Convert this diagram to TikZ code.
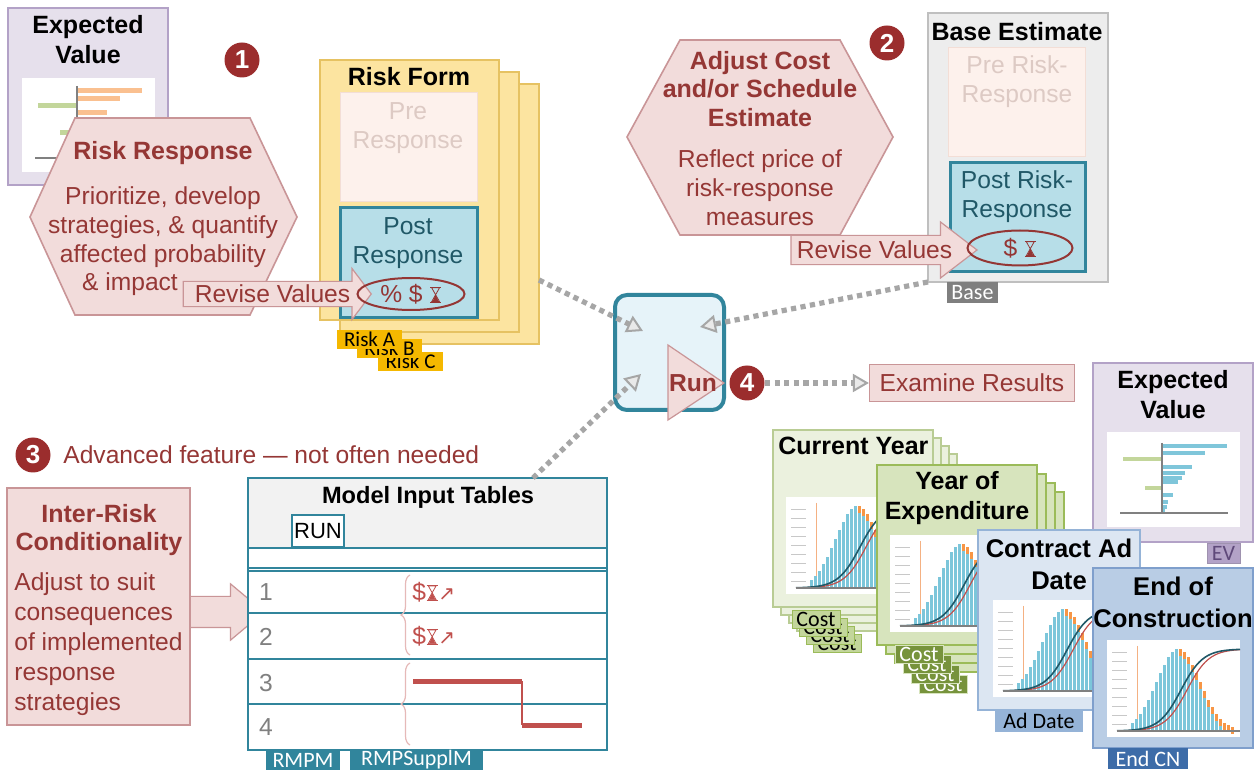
\documentclass[tikz,border=0pt]{standalone}
\usepackage{fontspec}
\setmainfont{Liberation Sans}
\newfontfamily\tabfont{Carlito}
\newfontfamily\symfont{DejaVu Sans}
\usepackage{xcolor}
\definecolor{riskRed}{HTML}{953735}
\definecolor{hexFill}{HTML}{F2DCDB}
\definecolor{hexBorder}{HTML}{C99597}
\definecolor{badgeRed}{HTML}{9B2D2D}
\definecolor{formFill}{HTML}{FCE4A0}
\definecolor{formBorder}{HTML}{E6C262}
\definecolor{tabGold}{HTML}{F5B800}
\definecolor{preFill}{HTML}{FDF1EC}
\definecolor{preBorder}{HTML}{F3DED6}
\definecolor{preText}{HTML}{DDCAC4}
\definecolor{postFill}{HTML}{B7DEE8}
\definecolor{postText}{HTML}{205867}
\definecolor{tealLine}{HTML}{31859C}
\definecolor{ringRed}{HTML}{943634}
\definecolor{evFill}{HTML}{E6E0EC}
\definecolor{evBorder}{HTML}{B3A2C7}
\definecolor{evTabText}{HTML}{5F497A}
\definecolor{evOrange}{HTML}{FAC090}
\definecolor{evGreen}{HTML}{C3D69B}
\definecolor{evBlue}{HTML}{7FC6DA}
\definecolor{baseFill}{HTML}{EDEDED}
\definecolor{baseBorder}{HTML}{BFBFBF}
\definecolor{gray50}{HTML}{7F7F7F}
\definecolor{runFill}{HTML}{E6F3F9}
\definecolor{dotGray}{HTML}{A6A6A6}
\definecolor{headGray}{HTML}{F2F2F2}
\definecolor{numGray}{HTML}{808080}
\definecolor{braceRed}{HTML}{E6B9B8}
\definecolor{stepRed}{HTML}{C0504D}
\definecolor{cyFill}{HTML}{EBF1DE}
\definecolor{cyBorder}{HTML}{B9CC94}
\definecolor{cyTab}{HTML}{C3D69B}
\definecolor{yoeFill}{HTML}{D7E4BD}
\definecolor{yoeBorder}{HTML}{9BBB59}
\definecolor{yoeTab}{HTML}{77933C}
\definecolor{adFill}{HTML}{DCE6F2}
\definecolor{adBorder}{HTML}{95B3D7}
\definecolor{endFill}{HTML}{B9CDE5}
\definecolor{endBorder}{HTML}{7F9FCC}
\definecolor{endTab}{HTML}{3D6CA8}
\definecolor{histBlue}{HTML}{7CC6DA}
\definecolor{histOrange}{HTML}{F79646}
\definecolor{chartOrange}{HTML}{F4B183}
\definecolor{cdfDark}{HTML}{215968}
\definecolor{cdfLight}{HTML}{C0504D}
\definecolor{tickGray}{HTML}{C8C8C8}
\usepackage{tikz}
\usetikzlibrary{shapes.geometric,shapes.arrows,arrows.meta,positioning,decorations.pathreplacing,calc}
\tikzset{
    sz/.style 2 args={minimum width=#1*0.5pt, minimum height=#2*0.5pt},
    card/.style={rectangle, anchor=north west, inner sep=0pt, outer sep=0pt},
    evcard/.style={card, draw=evBorder, fill=evFill, line width=0.8pt},
    chartarea/.style={card, fill=white},
    cardtitle/.style={align=center, inner sep=0pt, font=\bfseries\fontsize{12.5}{15}\selectfont},
    hexbox/.style={draw=hexBorder, fill=hexFill, line width=0.8pt},
    hextitle/.style={align=center, inner sep=0pt, text=riskRed, font=\bfseries\fontsize{12.5}{14.3}\selectfont},
    hextext/.style={align=center, inner sep=0pt, text=riskRed, font=\fontsize{12.3}{14.5}\selectfont},
    revise/.style={
        single arrow,
        draw=hexBorder,
        fill=hexFill,
        line width=0.6pt,
        single arrow head extend=6.5pt,
        single arrow tip angle=106,
        inner xsep=2pt,
        inner ysep=1.5pt,
        text=riskRed,
        font=\fontsize{12.3}{14}\selectfont
    },
    riskcard/.style={card, draw=formBorder, fill=formFill, line width=0.8pt},
    risktab/.style={card, fill=tabGold, inner xsep=1pt, inner ysep=0.5pt, sz={65}{19},
        font=\tabfont\fontsize{10.5}{11}\selectfont},
    prebox/.style={card, draw=preBorder, fill=preFill, line width=0.5pt},
    pretext/.style={align=center, inner sep=0pt, text=preText, font=\fontsize{12.3}{14.5}\selectfont},
    postbox/.style={card, draw=tealLine, fill=postFill, line width=1.5pt},
    posttext/.style={align=center, inner sep=0pt, text=postText, font=\fontsize{12.3}{14.5}\selectfont},
    valring/.style={ellipse, draw=ringRed, line width=1pt, inner sep=0pt, text=ringRed,
        font=\fontsize{12.3}{14}\selectfont},
    badge/.style={circle, fill=badgeRed, text=white, minimum size=17.5pt, inner sep=0pt,
        font=\bfseries\fontsize{13}{13}\selectfont},
    runbox/.style={card, draw=tealLine, fill=runFill, line width=2pt, rounded corners=6pt},
    runtri/.style={draw=hexBorder, fill=hexFill, line width=0.6pt},
    runtext/.style={inner sep=0pt, text=riskRed, font=\bfseries\fontsize{12.3}{14}\selectfont},
    examine/.style={draw=hexBorder, fill=hexFill, line width=0.6pt, text=riskRed,
        font=\fontsize{12.3}{14}\selectfont},
    dotarrow/.style={
        draw=dotGray,
        line width=2.6pt,
        dash pattern=on 2.6pt off 2.2pt,
        -{Triangle[length=8pt, width=9pt, fill=dotGray!25, line width=1pt]}
    },
    note/.style={inner sep=0pt, text=riskRed, font=\fontsize{12.3}{14}\selectfont},
    interbox/.style={card, draw=hexBorder, fill=hexFill, line width=0.8pt},
    tablebox/.style={card, draw=tealLine, fill=white, line width=1pt},
    tablehead/.style={card, draw=tealLine, fill=headGray, line width=1pt},
    runbtn/.style={card, draw=tealLine, fill=white, line width=1pt, font=\fontsize{11}{12}\selectfont},
    rowline/.style={draw=tealLine, line width=1pt},
    rownum/.style={inner sep=0pt, text=numGray, font=\fontsize{12.3}{14}\selectfont},
    bracemark/.style={draw=braceRed, line width=0.6pt, decorate, decoration={brace, amplitude=4.5pt}},
    condmark/.style={inner sep=0pt, text=stepRed, font=\fontsize{12.3}{14}\selectfont},
    stepline/.style={draw=stepRed, line width=2.5pt},
    tealtab/.style={card, fill=tealLine, text=white, font=\tabfont\fontsize{11}{12}\selectfont},
    basetab/.style={card, fill=gray50, text=white, sz={51}{21}, font=\tabfont\fontsize{11}{12}\selectfont},
    evtab/.style={card, draw=evTabText!60, fill=evBorder, text=evTabText, sz={33}{20},
        font=\tabfont\fontsize{11}{12}\selectfont},
    cycard/.style={card, draw=cyBorder, fill=cyFill, line width=0.8pt, sz={160}{177}},
    cytab/.style={card, draw=yoeBorder, fill=cyTab, sz={48}{18}, font=\tabfont\fontsize{11}{12}\selectfont},
    yoecard/.style={card, draw=yoeBorder, fill=yoeFill, line width=0.8pt, sz={160}{180}},
    yoetab/.style={card, draw=yoeFill, fill=yoeTab, text=white, sz={48}{18},
        font=\tabfont\fontsize{11}{12}\selectfont},
    adcard/.style={card, draw=adBorder, fill=adFill, line width=0.8pt, sz={162}{180}},
    adtab/.style={card, fill=adBorder, sz={88}{22}, font=\tabfont\fontsize{11}{12}\selectfont},
    endcard/.style={card, draw=endBorder, fill=endFill, line width=0.8pt, sz={160}{180}},
    endtab/.style={card, fill=endTab, text=white, sz={80}{21}, font=\tabfont\fontsize{11}{12}\selectfont}
}

% small hourglass sign
\newcommand{\hglass}{\tikz[x=1pt,y=1pt,baseline=0pt]{%
    \draw[line width=0.6pt] (0,0) -- (5.5,0) (0,7.5) -- (5.5,7.5);
    \draw[line width=0.4pt] (0.8,7.2) -- (4.7,7.2) -- (0.8,0.3) -- (4.7,0.3) -- cycle;
    \fill (2.75,3.75) -- (1.2,0.3) -- (4.3,0.3) -- cycle;}}

% histogram with two s-curves, north-west corner at #1,#2
\newcommand{\distchart}[2]{%
  \begin{scope}[shift={(#1,#2)}]
    \fill[white] (0,0) rectangle (133,97);
    \foreach \ty in {12,21,...,84} \draw[tickGray, line width=0.4pt] (5,\ty) -- (20,\ty);
    \draw[chartOrange, line width=0.5pt] (30,6) -- (30,91);
    \foreach \i in {0,...,25} {
      \pgfmathsetmacro\bx{24+4*\i}
      \pgfmathsetmacro\bh{82*exp(-((\i-11.5)^2)/58)}
      \fill[histBlue] (\bx,91) rectangle ++(3.2,-\bh);
      \ifnum\i>11 \fill[histOrange] (\bx,91-\bh) rectangle ++(3.2,7); \fi
    }
    \draw[cdfLight, line width=0.6pt] plot[domain=10:133, samples=40, smooth] (\x, {91-82/(1+exp(-(\x-80)/11))});
    \draw[cdfDark, line width=0.8pt] plot[domain=10:133, samples=40, smooth] (\x, {91-82/(1+exp(-(\x-74)/11))});
    \draw[gray, line width=0.6pt] (10,91) -- (133,91);
  \end{scope}}

\begin{document}
\begin{tikzpicture}[x=0.5pt, y=-0.5pt]
    \useasboundingbox (0,0) rectangle (1255,770);
    \fill[white] (0,0) rectangle (1255,770);

    % Step 1: expected value card behind the hexagon
    \node[evcard, sz={160}{177}] (ev1) at (8,8) {};
    \node[cardtitle] (ev1title) at (88,40) {Expected\\Value};
    \node[chartarea, sz={133}{94}] (ev1chart) at (22,78) {};
    \foreach \by/\bl in {91/142, 99/120, 113/107, 121/100}
        \fill[evOrange] (77,\by-2.5) rectangle (\bl,\by+2.5);
    \foreach \by/\bl in {106/38, 133/60}
        \fill[evGreen] (\bl,\by-2.5) rectangle (77,\by+2.5);
    \draw[gray, line width=0.7pt] (77,86) -- (77,160);
    \draw[gray, line width=0.7pt] (35,158) -- (150,158);

    % Step 1: risk response
    \draw[hexbox] (30,217) -- (75,118) -- (250,118) -- (297,217) -- (250,315) -- (75,315) -- cycle;
    \node[hextitle] (rrtitle) at (163,153) {Risk Response};
    \node[hextext] (rrtext) at (163,227) {Prioritize, develop\\strategies, \& quantify\\affected probability};
    \node[hextext] (rrimpact) at (130,284) {\& impact};
    \node[badge] (b1) at (242,60) {1};

    % Risk form stack
    \foreach \nm/\dx/\dy/\tx/\ty in {C/40/24/41/22, B/20/12/20/9, A/0/0/0/0} {
        \node[riskcard, sz={179}{260}] (rf\nm) at (320+\dx,60+\dy) {};
        \node[risktab] (tab\nm) at (337+\tx,330+\ty) {Risk \nm};
    }
    \node[cardtitle] (rftitle) at (409,77) {Risk Form};
    \node[prebox, sz={137}{109}] (rfpre) at (340,93) {};
    \node[pretext] (rfpretext) at (408,128) {Pre\\Response};
    \node[postbox, sz={137}{110}] (rfpost) at (340,208) {};
    \node[posttext] (rfposttext) at (408,243) {Post\\Response};
    \node[revise, anchor=tip, minimum height=94pt] (rv1) at (372,294) {Revise Values};
    \node[valring, sz={107}{32}] (rfvals) at (411,294) {\% \$ \hglass};

    % Step 2: adjust base estimate
    \draw[hexbox] (627,137) -- (680,40) -- (840,40) -- (893,137) -- (840,235) -- (680,235) -- cycle;
    \node[hextitle] (adjtitle) at (760,89) {Adjust Cost\\and/or Schedule\\Estimate};
    \node[hextext] (adjtext) at (760,188) {Reflect price of\\risk-response\\measures};
    \node[badge] (b2) at (887,43) {2};
    \node[card, draw=baseBorder, fill=baseFill, line width=0.8pt, sz={180}{269}] (base) at (928,13) {};
    \node[cardtitle] (basetitle) at (1017,32) {Base Estimate};
    \node[prebox, sz={137}{109}] (basepre) at (948,48) {};
    \node[pretext] (basepretext) at (1017,82) {Pre Risk-\\Response};
    \node[postbox, sz={135}{109}] (basepost) at (950,163) {};
    \node[posttext] (baseposttext) at (1017,197) {Post Risk-\\Response};
    \node[revise, anchor=tip, minimum height=93pt, inner ysep=2.5pt, single arrow tip angle=75,
        single arrow head extend=6.7pt] (rv2) at (978,250) {Revise Values};
    \node[valring, sz={105}{35}] (basevals) at (1020,248) {\$ \hglass};
    \node[basetab] (basetabnode) at (947,282) {Base};

    % Step 3: advanced feature
    \node[badge] (b3) at (33,455) {3};
    \node[note, anchor=west] (advnote) at (63,455) {Advanced feature — not often needed};
    \node[revise, anchor=tip, minimum height=42.5pt, inner ysep=7.5pt, inner xsep=0pt,
        single arrow head extend=6.3pt, single arrow tip angle=80] (irarrow) at (265,612) {};
    \node[interbox, sz={183}{237}] (interrisk) at (7,488) {};
    \node[hextitle] (irtitle) at (99,530) {Inter-Risk\\Conditionality};
    \node[hextext, align=left, anchor=north west, font=\fontsize{12.3}{15}\selectfont]
        (irtext) at (14,572) {Adjust to suit\\consequences\\of implemented\\response\\strategies};

    % Model input tables
    \node[tablebox, sz={359}{272}] (tbl) at (248,478) {};
    \node[tablehead, sz={359}{70}] (tblhead) at (248,478) {};
    \node[cardtitle, font=\bfseries\fontsize{11.8}{14}\selectfont] (tbltitle) at (428,497) {Model Input Tables};
    \node[runbtn, sz={52}{32}] (runbtn) at (292,515) {RUN};
    \foreach \ry in {568,571,613,659,704}
        \draw[rowline] (248,\ry) -- (607,\ry);
    \foreach \n/\ry in {1/592, 2/637, 3/683, 4/727}
        \node[rownum] (row\n) at (266,\ry) {\n};
    \draw[bracemark] (410,655) -- (410,575);
    \draw[bracemark] (410,745) -- (410,663);
    \foreach \n/\ry in {1/592, 2/636}
        \node[condmark, anchor=west] (cond\n) at (412,\ry) {\$\hglass{\symfont\fontsize{10}{10}\selectfont ↗}};
    \draw[stepline] (413,681) -- (522,681);
    \draw[stepRed, line width=0.6pt] (522,681) -- (522,725);
    \draw[stepline] (522,725) -- (582,725);
    \node[tealtab, sz={74}{20}] (rmpm) at (266,750) {RMPM};
    \node[tealtab, sz={133}{20}] (rmpsuppl) at (350,750) {RMPSupplM};

    % Step 4: run
    \node[runbox, sz={109}{115}] (run) at (615,295) {};
    \draw[runtri] (668,345) -- (668,420) -- (724,383) -- cycle;
    \node[runtext] (runlabel) at (693,383) {Run};
    \node[badge] (b4) at (747,383) {4};
    \node[examine, sz={205}{37}] (exam) at (972,383) {Examine Results};

    \draw[dotarrow] ([yshift=32pt]rfC.south east) -- ([shift={(14pt,-18pt)}]run.north west);
    \draw[dotarrow] (base.south west) -- ([shift={(-12pt,-16pt)}]run.north east);
    \draw[dotarrow] ([xshift=142.5pt]tbl.north west) -- ([shift={(13pt,18pt)}]run.south west);
    \draw[dotarrow] (b4) -- (exam);

    % Results: expected value
    \node[evcard, sz={160}{179}] (ev2) at (1093,363) {};
    \node[cardtitle] (ev2title) at (1173,395) {Expected\\Value};
    \node[chartarea, sz={133}{95}] (ev2chart) at (1107,432) {};
    \foreach \by/\bl in {446/1227, 453/1205, 467/1192, 473/1185, 478/1182, 482/1178, 495/1173, 502/1168, 507/1167, 510/1165}
        \fill[evBlue] (1162,\by-2) rectangle (\bl,\by+2);
    \foreach \by/\bl in {459/1123, 488/1145}
        \fill[evGreen] (\bl,\by-2) rectangle (1162,\by+2);
    \draw[gray, line width=0.7pt] (1162,443) -- (1162,513);
    \draw[gray, line width=0.7pt] (1120,513) -- (1228,513);
    \node[evtab] (evtabnode) at (1207,543) {EV};

    % Results: current year stack
    \foreach \k in {3,2,1,0} {
        \node[cycard] (cycard\k) at (773+8*\k,430+8*\k) {};
        \node[cytab] (cytab\k) at (792+7*\k,610+8*\k) {Cost};
    }
    \node[cardtitle, anchor=west] (cytitle) at (778,446) {Current Year};
    \distchart{786}{497}

    % Results: year of expenditure stack
    \foreach \k in {3,2,1,0} {
        \node[yoecard] (yoecard\k) at (877+9*\k,465+9*\k) {};
        \node[yoetab] (yoetab\k) at (895+8*\k,645+10*\k) {Cost};
    }
    \node[cardtitle] (yoetitle) at (957,498) {Year of\\Expenditure};
    \distchart{890}{535}

    % Results: contract ad date
    \node[adcard] (adcard) at (978,530) {};
    \node[cardtitle, font=\bfseries\fontsize{12.8}{16}\selectfont] (adtitle) at (1059,564) {Contract Ad\\Date};
    \distchart{993}{600}
    \node[adtab] (adtabnode) at (995,710) {Ad Date};

    % Results: end of construction
    \node[endcard] (endcard) at (1093,568) {};
    \node[cardtitle, font=\bfseries\fontsize{12.8}{16}\selectfont] (endtitle) at (1173,602) {End of\\Construction};
    \distchart{1107}{640}
    \node[endtab] (endtabnode) at (1108,748) {End CN};
\end{tikzpicture}
\end{document}
